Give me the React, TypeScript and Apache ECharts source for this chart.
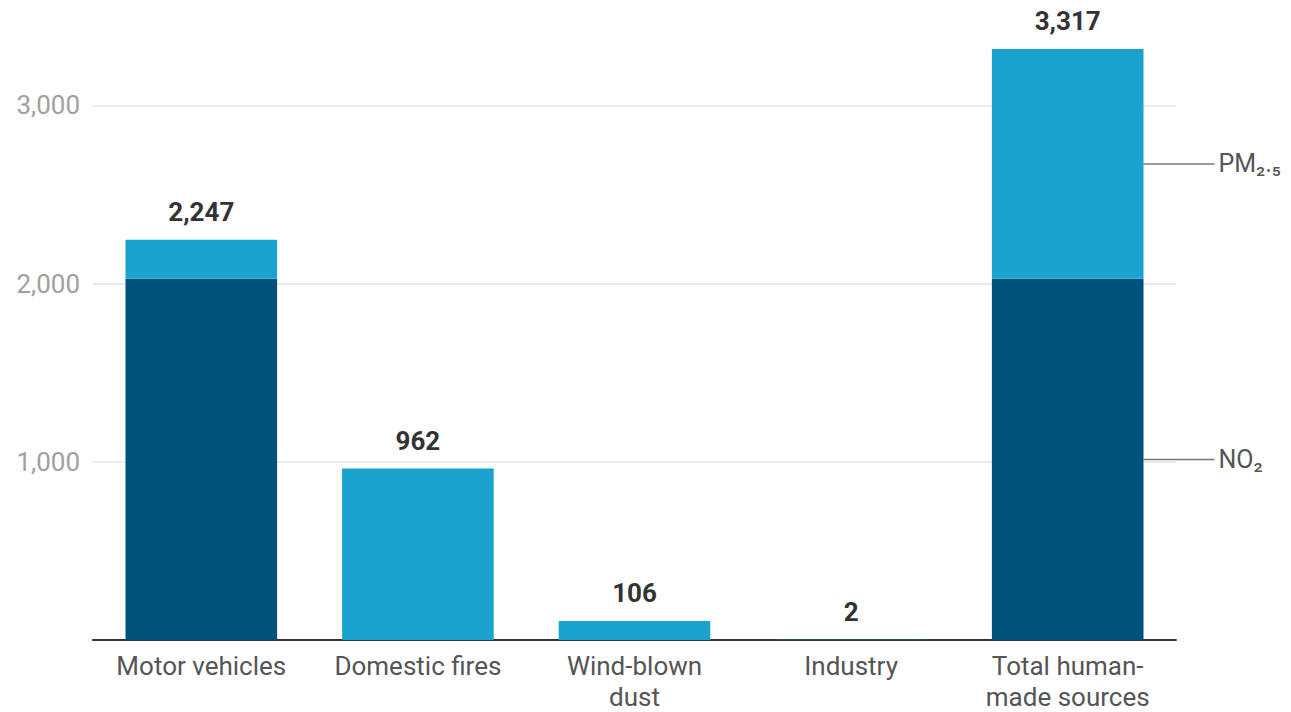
import React, { useEffect, useRef } from "react";
import * as echarts from "echarts";

const categories = ["Motor vehicles", "Domestic fires", "Wind-blown\ndust", "Industry", "Total human-\nmade sources"];
const no2Values = [2027, 0, 0, 0, 2027];
const pm25Values = [220, 962, 106, 2, 1290];
const yTicks = [1000, 2000, 3000];
const yMax = 3317;
const endLabels = ["NO₂", "PM₂.₅"];

const DARK = "#00527a";
const LIGHT = "#1aa3cf";
const FONT = "Roboto, 'Noto Sans', sans-serif";

export default function App() {
  const ref = useRef<HTMLDivElement>(null);

  useEffect(() => {
    if (!ref.current) return;
    const chart = echarts.init(ref.current, null, { renderer: "svg" });
    const totals = no2Values.map((v, i) => v + pm25Values[i]);
    const last = categories.length - 1;
    const endData = [
      [last, 0, no2Values[last]],
      [last, no2Values[last], no2Values[last] + pm25Values[last]],
    ];

    chart.setOption({
      animation: false,
      backgroundColor: "#ffffff",
      textStyle: { fontFamily: FONT },
      grid: { left: 93, right: 115, top: 49, bottom: 72, containLabel: false },
      xAxis: {
        type: "category",
        data: categories,
        axisLine: { lineStyle: { color: "#333333", width: 2 } },
        axisTick: { show: false },
        axisLabel: {
          color: "#555555",
          fontSize: 26,
          lineHeight: 31,
          margin: 10,
          fontFamily: FONT,
          interval: 0,
        },
      },
      yAxis: {
        type: "value",
        min: 0,
        max: yMax,
        interval: 1000,
        axisLine: { show: false },
        axisTick: { show: false },
        splitLine: { show: false },
        axisLabel: {
          color: "#a0a0a0",
          fontSize: 26,
          margin: 13,
          fontFamily: FONT,
          formatter: (v: number) => (v === 0 || v % 1000 !== 0 ? "" : v.toLocaleString("en-US")),
        },
      },
      series: [
        {
          name: "NO₂",
          type: "bar",
          stack: "total",
          barCategoryGap: "30%",
          data: no2Values,
          itemStyle: { color: DARK },
          markLine: {
            silent: true,
            z: 1,
            symbol: "none",
            label: { show: false },
            lineStyle: { color: "#e3e3e3", width: 1.5, type: "solid" },
            data: yTicks.map((t) => ({ yAxis: t })),
          },
        },
        {
          name: "PM₂.₅",
          type: "bar",
          stack: "total",
          barCategoryGap: "30%",
          data: pm25Values,
          itemStyle: { color: LIGHT },
          label: {
            show: true,
            position: "top",
            distance: 15,
            color: "#333333",
            fontSize: 26,
            fontWeight: "bold",
            fontFamily: FONT,
            formatter: (p: any) => totals[p.dataIndex].toLocaleString("en-US"),
          },
        },
        {
          type: "custom",
          clip: false,
          silent: true,
          z: 3,
          data: endData,
          encode: { x: 0, y: [1, 2] },
          renderItem: (params: any, api: any) => {
            const x = api.value(0);
            const lo = api.value(1);
            const hi = api.value(2);
            const p1 = api.coord([x, lo]);
            const p2 = api.coord([x, hi]);
            const midY = (p1[1] + p2[1]) / 2;
            const bandW = api.size([1, 0])[0];
            const barRight = p1[0] + bandW * 0.35;
            return {
              type: "group",
              children: [
                {
                  type: "line",
                  shape: { x1: barRight, y1: midY, x2: barRight + 71, y2: midY },
                  style: { stroke: "#777777", lineWidth: 1.5 },
                },
                {
                  type: "text",
                  x: barRight + 75,
                  y: midY,
                  style: {
                    text: endLabels[params.dataIndex],
                    fill: "#555555",
                    fontSize: 25,
                    fontFamily: FONT,
                    verticalAlign: "middle",
                    align: "left",
                  },
                },
              ],
            };
          },
        },
      ],
    });

    return () => chart.dispose();
  }, []);

  return (
    <div
      ref={ref}
      style={{ position: "absolute", left: 0, top: 0, width: 1291, height: 712, background: "#fff" }}
    />
  );
}
